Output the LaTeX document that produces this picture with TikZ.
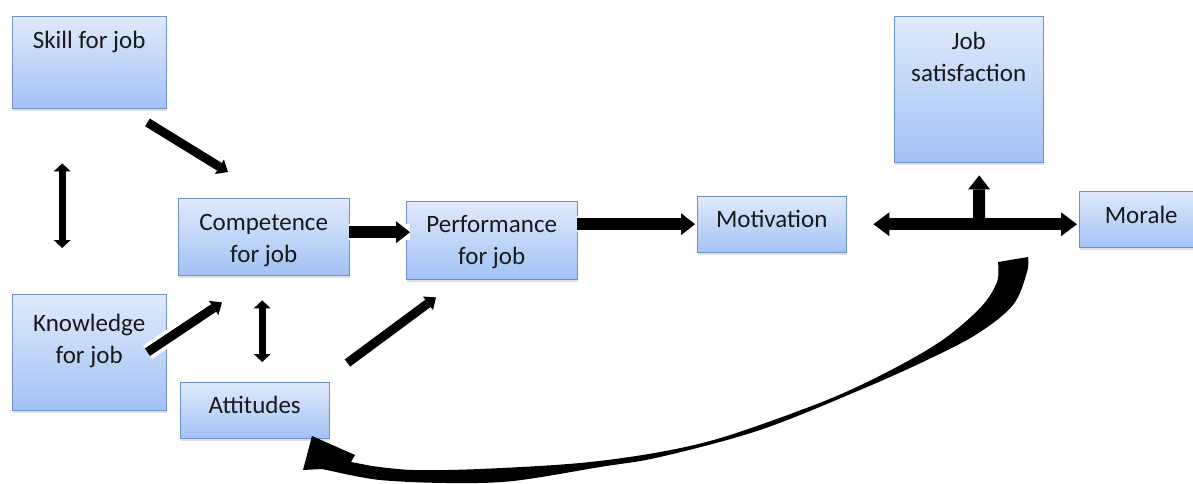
\documentclass[tikz,border=0pt]{standalone}
\usepackage{fontspec}
\setmainfont{Carlito}
\usetikzlibrary{arrows.meta,shadows}

\definecolor{boxtop}{RGB}{224,234,251}
\definecolor{boxbot}{RGB}{162,194,245}
\definecolor{boxline}{RGB}{112,145,200}
\definecolor{boxtext}{RGB}{25,25,25}

\begin{document}
\begin{tikzpicture}[x=1pt, y=-1pt,
    job box/.style={draw=boxline, top color=boxtop, bottom color=boxbot, anchor=north west,
                    inner sep=0pt, align=center, text=boxtext, font=\fontsize{25}{32}\selectfont,
                    drop shadow={opacity=0.25, shadow xshift=1pt, shadow yshift=-2.5pt}},
    small arrow/.style={line width=9pt, -{Triangle[width=17pt,length=10pt,line width=0pt]}},
    both arrow/.style={line width=7pt, {Triangle[width=17pt,length=8pt,line width=0pt]}-{Triangle[width=17pt,length=8pt,line width=0pt]}},
    mid arrow/.style={line width=12pt, -{Triangle[width=22pt,length=14pt,line width=0pt]}},
    big both/.style={line width=12pt, {Triangle[width=24pt,length=16pt,line width=0pt]}-{Triangle[width=24pt,length=16pt,line width=0pt]}},
    halo/.style={preaction={draw=white, line width=16pt, arrows=-}}]

  \useasboundingbox (0,0) rectangle (1193,484);

  \node[job box, minimum width=154pt, text height=32pt, text depth=60pt] (skill) at (12,16) {Skill for job};
  \node[job box, minimum width=154pt, text height=69pt, text depth=47pt] (know) at (12,294) {Knowledge\\for job};
  \node[job box, minimum width=171pt, text height=64pt, text depth=13pt] (comp) at (178,198) {Competence\\for job};
  \node[job box, minimum width=171pt, text height=63pt, text depth=15pt] (perf) at (406,201) {Performance\\for job};
  \node[job box, minimum width=149pt, text height=31pt, text depth=25pt] (att) at (180,382) {Attitudes};
  \node[job box, minimum width=149pt, text height=31pt, text depth=25pt] (mot) at (697,196) {Motivation};
  \node[job box, minimum width=149pt, text height=65pt, text depth=81pt] (jobsat) at (894,16) {Job\\satisfaction};
  \node[job box, minimum width=124pt, text height=32pt, text depth=24pt] (morale) at (1079,191) {Morale};

  \draw[small arrow] ([shift={(-19,14)}]skill.south east) -- ([shift={(50,-26)}]comp.north west);
  \draw[both arrow] ([shift={(-27,55)}]skill.south) -- ([shift={(-27,-46)}]know.north);
  \draw[small arrow, halo] ([xshift=-19pt]know.east) -- ([shift={(44,27)}]comp.south west);
  \draw[both arrow] ([shift={(-1.5,25)}]comp.south) -- ([shift={(7.5,-20)}]att.north);
  \draw[small arrow] ([shift={(18,-19)}]att.north east) -- ([shift={(30,18)}]perf.south west);
  \draw[mid arrow, halo] ([yshift=4.5pt]comp.east) -- ([shift={(4,-8)}]perf.west);
  \draw[mid arrow, halo] (perf.east |- mot.west) -- ([xshift=-2pt]mot.west);

  \draw[big both, shorten >=2pt] ([xshift=27pt]mot.east) -- (mot.east -| morale.west);
  \coordinate (fork) at (979,224);
  \draw[mid arrow] (fork) -- ([shift={(10.5,13)}]jobsat.south);

  % morale back to attitudes
  \fill[black] plot[smooth, tension=0.55] coordinates {(998,262) (997,282) (981,307) (944,339) (893,369)
      (827,400) (727,436) (660,452) (580,463) (480,469) (413,470) (372,466)}
    -- (351,462) -- (355,455) -- (312,436) -- (303,470) -- (322,469)
    -- plot[smooth, tension=0.55] coordinates {(336,472) (380,480) (447,483) (513,481) (600,467)
      (660,457) (760,430) (860,390) (927,360) (977,334) (1013,305) (1027,272) (1028,257)} -- cycle;

\end{tikzpicture}
\end{document}
